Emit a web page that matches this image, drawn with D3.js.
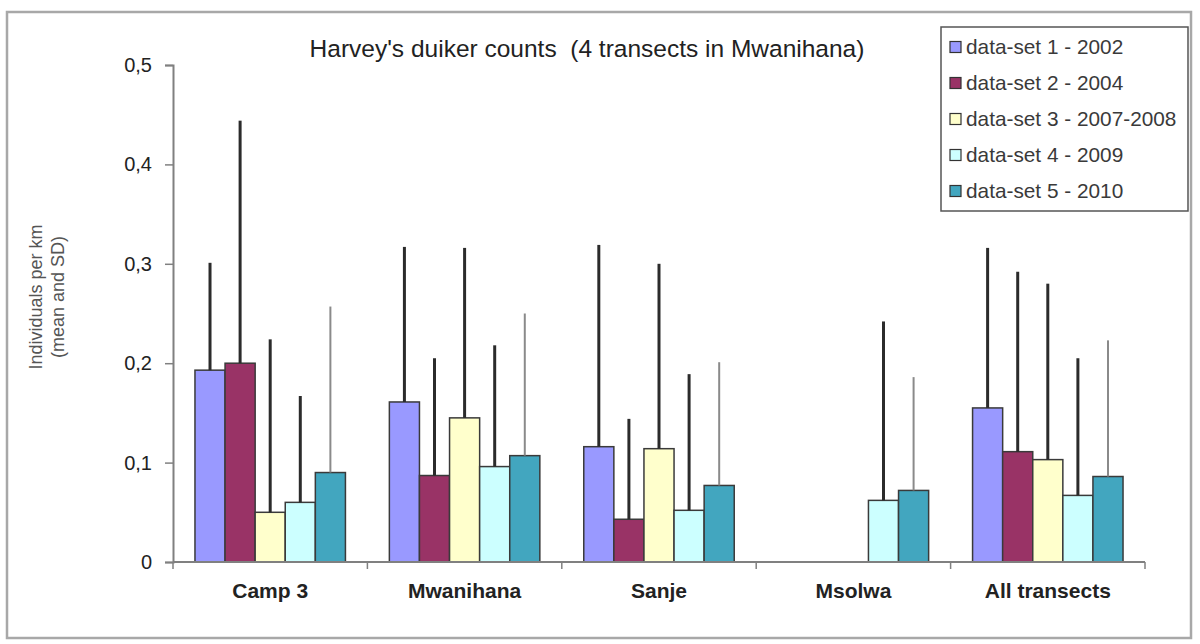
<!DOCTYPE html>
<html>
<head>
<meta charset="utf-8">
<script src="https://cdn.jsdelivr.net/npm/d3@7/dist/d3.min.js"></script>
<style>
  html, body { margin: 0; padding: 0; background: #fff; }
  svg { display: block; font-family: "Liberation Sans", Arial, sans-serif; }
</style>
</head>
<body>
<svg id="chart" width="1200" height="644"></svg>
<script>
// Transects along the x axis
const categories = ["Camp 3", "Mwanihana", "Sanje", "Msolwa", "All transects"];

// Survey periods (one bar per period in each group)
const seriesNames = [
  "data-set 1 - 2002",
  "data-set 2 - 2004",
  "data-set 3 - 2007-2008",
  "data-set 4 - 2009",
  "data-set 5 - 2010"
];

// Mean individuals per km, per series, in category order (null = no survey)
const mean1 = [0.193, 0.161, 0.116, null, 0.155];
const mean2 = [0.200, 0.087, 0.043, null, 0.111];
const mean3 = [0.050, 0.145, 0.114, null, 0.103];
const mean4 = [0.060, 0.096, 0.052, 0.062, 0.067];
const mean5 = [0.090, 0.107, 0.077, 0.072, 0.086];

// Standard deviations (drawn as upward error bars)
const sd1 = [0.108, 0.156, 0.203, null, 0.161];
const sd2 = [0.244, 0.118, 0.101, null, 0.181];
const sd3 = [0.174, 0.171, 0.186, null, 0.177];
const sd4 = [0.107, 0.122, 0.137, 0.180, 0.138];
const sd5 = [0.167, 0.143, 0.124, 0.114, 0.137];

const yTicks = [0, 0.1, 0.2, 0.3, 0.4, 0.5];

const colors = ["#9999ff", "#993366", "#ffffcc", "#ccffff", "#42a6bf"];
const errColors = ["#2b2b2b", "#2b2b2b", "#2b2b2b", "#2b2b2b", "#8a8a8a"];
const errWidths = [3, 3, 3, 3, 2];

const means = [mean1, mean2, mean3, mean4, mean5];
const sds = [sd1, sd2, sd3, sd4, sd5];

const svg = d3.select("#chart");

// outer chart frame
svg.append("rect")
  .attr("x", 7).attr("y", 12).attr("width", 1184).attr("height", 626)
  .attr("fill", "#fff").attr("stroke", "#a8a8a8").attr("stroke-width", 2.5);

const plot = { left: 173, right: 1145, top: 65, bottom: 562 };

const x0 = d3.scaleBand().domain(categories).range([plot.left, plot.right]).padding(0);
const x1 = d3.scaleBand().domain(d3.range(seriesNames.length))
  .range([0, x0.bandwidth()]).paddingInner(0).paddingOuter(0.73);
const y = d3.scaleLinear().domain([0, 0.5]).range([plot.bottom, plot.top]);

// bars
const barData = [];
means.forEach((arr, s) => arr.forEach((v, c) => {
  if (v !== null) barData.push({ s, c, v, sd: sds[s][c] });
}));

svg.append("g").selectAll("rect").data(barData).join("rect")
  .attr("x", d => x0(categories[d.c]) + x1(d.s))
  .attr("y", d => y(d.v))
  .attr("width", x1.bandwidth())
  .attr("height", d => y(0) - y(d.v))
  .attr("fill", d => colors[d.s])
  .attr("stroke", "#3a3a3a")
  .attr("stroke-width", 1.5);

// error bars (mean + SD)
svg.append("g").selectAll("line").data(barData).join("line")
  .attr("x1", d => x0(categories[d.c]) + x1(d.s) + x1.bandwidth() / 2)
  .attr("x2", d => x0(categories[d.c]) + x1(d.s) + x1.bandwidth() / 2)
  .attr("y1", d => y(d.v))
  .attr("y2", d => y(d.v + d.sd))
  .attr("stroke", d => errColors[d.s])
  .attr("stroke-width", d => errWidths[d.s]);

// y axis
const fmt = v => v === 0 ? "0" : d3.format(".1f")(v).replace(".", ",");
const yAxis = svg.append("g")
  .attr("transform", `translate(${plot.left},0)`)
  .call(d3.axisLeft(y).tickValues(yTicks).tickFormat(fmt).tickSize(8).tickPadding(13));
yAxis.select(".domain").attr("stroke", "#808080").attr("stroke-width", 2);
yAxis.selectAll(".tick line").attr("stroke", "#808080").attr("stroke-width", 1.5);
yAxis.selectAll(".tick text").attr("font-size", 20).attr("fill", "#222")
  .attr("font-family", "Liberation Sans, Arial, sans-serif");

// x axis: baseline with ticks between categories
const xb = svg.append("g");
xb.append("line")
  .attr("x1", plot.left).attr("x2", plot.right)
  .attr("y1", y(0)).attr("y2", y(0))
  .attr("stroke", "#808080").attr("stroke-width", 2);
const tickPos = categories.map(c => x0(c)).concat([plot.right]);
xb.selectAll("line.tk").data(tickPos).join("line").attr("class", "tk")
  .attr("x1", d => d).attr("x2", d => d)
  .attr("y1", y(0)).attr("y2", y(0) + 7)
  .attr("stroke", "#808080").attr("stroke-width", 1.5);
xb.selectAll("text").data(categories).join("text")
  .attr("x", c => x0(c) + x0.bandwidth() / 2)
  .attr("y", 598)
  .attr("text-anchor", "middle")
  .attr("font-size", 21).attr("font-weight", "bold").attr("fill", "#222")
  .text(c => c);

// y axis title
const yt = svg.append("text")
  .attr("transform", "translate(0,297) rotate(-90)")
  .attr("text-anchor", "middle")
  .attr("font-size", 18).attr("fill", "#555");
yt.append("tspan").attr("x", 0).attr("y", 42).text("Individuals per km");
yt.append("tspan").attr("x", 0).attr("y", 64).text("(mean and SD)");

// chart title
svg.append("text")
  .attr("x", 587).attr("y", 57)
  .attr("text-anchor", "middle")
  .attr("font-size", 24.5).attr("fill", "#222")
  .attr("xml:space", "preserve")
  .text("Harvey's duiker counts  (4 transects in Mwanihana)");

// legend
const lg = svg.append("g");
lg.append("rect")
  .attr("x", 941).attr("y", 27).attr("width", 247).attr("height", 184)
  .attr("fill", "#fff").attr("stroke", "#555").attr("stroke-width", 1.5);
const items = lg.selectAll("g.item").data(seriesNames).join("g").attr("class", "item")
  .attr("transform", (d, i) => `translate(950,${47 + i * 36})`);
items.append("rect")
  .attr("x", 0).attr("y", -5.5).attr("width", 11).attr("height", 11)
  .attr("fill", (d, i) => colors[i]).attr("stroke", "#333").attr("stroke-width", 1.2);
items.append("text")
  .attr("x", 16).attr("y", 7)
  .attr("font-size", 20.8).attr("fill", "#3a3a3a")
  .text(d => d);
</script>
</body>
</html>
